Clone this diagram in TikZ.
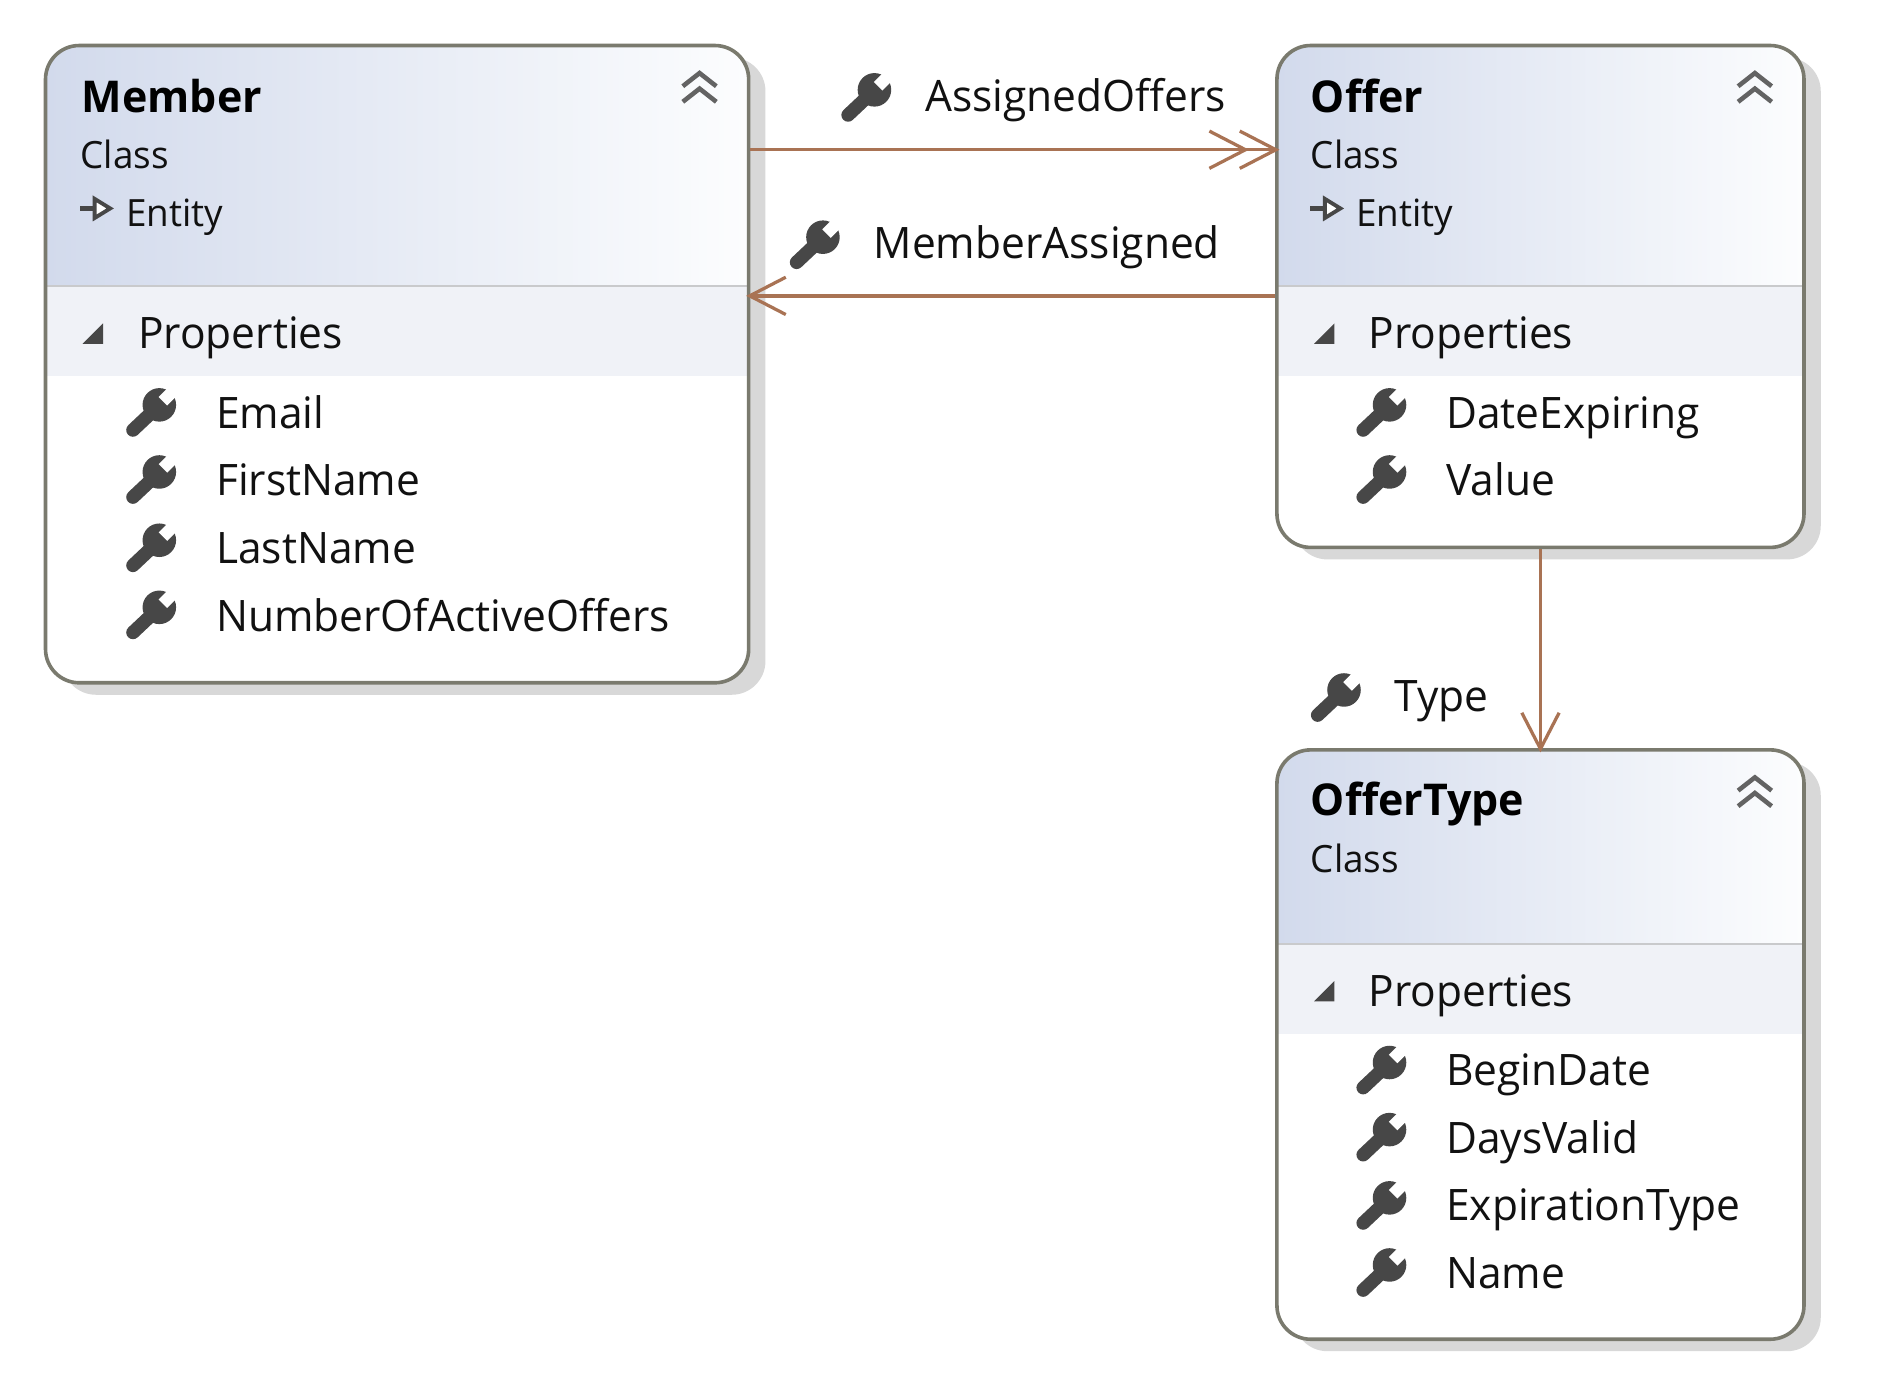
\documentclass[tikz,border=0pt]{standalone}
\usepackage{fontspec}
\setmainfont[FakeStretch=0.98]{Open Sans}
\usetikzlibrary{arrows.meta,fit}
\definecolor{boxline}{HTML}{7A7A6E}
\definecolor{shadowc}{HTML}{D8D8D8}
\definecolor{hdrL}{HTML}{D2DAEC}
\definecolor{hdrR}{HTML}{FCFDFE}
\definecolor{bandc}{HTML}{F0F2F7}
\definecolor{sepc}{HTML}{C9CACC}
\definecolor{conn}{HTML}{A97354}
\definecolor{iconc}{HTML}{474747}
\definecolor{txt}{HTML}{111111}
\tikzset{
  x=0.4975pt,y=-0.4975pt,
  boxnode/.style={draw=boxline,line width=1.5pt,rounded corners=14pt,inner sep=0pt,fill=none},
  title/.style={anchor=base west,inner sep=0pt,font=\fontsize{18.2}{22}\selectfont\bfseries,text=black},
  kind/.style={anchor=base west,inner sep=0pt,font=\fontsize{15.6}{20}\selectfont,text=txt},
  prop/.style={anchor=base west,inner sep=0pt,font=\fontsize{18}{22}\selectfont,text=txt},
  rel/.style={draw=conn,line width=1.35pt,shorten >=-1.8pt},
  barb/.style={-{Straight Barb[length=15pt,width=15.5pt,line width=1.35pt]}},
  dbarb/.style={-{Straight Barb[length=15pt,width=15.5pt,line width=1.35pt,sep=-4.5pt]Straight Barb[length=15pt,width=15.5pt,line width=1.35pt]}},
  pics/wrench/.style={code={
    \draw[iconc,line width=5.6pt,line cap=round] (-15,15) -- (2,-1);
    \fill[iconc] (7,-6) circle (14);
    \draw[white,line width=5pt] (10,-9) -- (26,-25);
  }},
  pics/collapse/.style={code={
    \draw[iconc!85,line width=1.9pt] (-14,-1) -- (0,-12) -- (14,-1);
    \draw[iconc!85,line width=1.9pt] (-14,12) -- (0,1) -- (14,12);
  }},
  pics/tri/.style={code={
    \fill[iconc] (-9,9) -- (8,9) -- (8,-8) -- cycle;
  }},
  pics/inherit/.style={code={
    \draw[iconc,line width=1.8pt] (-13,0) -- (0,0);
    \draw[iconc,line width=1.6pt,fill=white] (-1,-8) -- (12,0) -- (-1,8) -- cycle;
  }}
}
\newcommand{\classbox}[6]{%
  \coordinate (#1a) at (#2,#3);
  \coordinate (#1b) at (#4,#5);
  \fill[shadowc,rounded corners=14pt] (#2+14,#3+10) rectangle (#4+14,#5+10);
  \fill[white,rounded corners=14pt] (#2,#3) rectangle (#4,#5);
  \begin{scope}
    \clip[rounded corners=14pt] (#2,#3) rectangle (#4,#5);
    \shade[left color=hdrL,right color=hdrR] (#2,#3) rectangle (#4,#6);
    \fill[bandc] (#2,#6) rectangle (#4,#6+75);
    \draw[sepc,line width=1pt] (#2,#6) -- (#4,#6);
  \end{scope}
  \node[boxnode,fit=(#1a)(#1b)] (#1) {};
  \pic at (#4-41,#3+35) {collapse};
  \pic at (#2+40,#6+39) {tri};
}
\begin{document}
\begin{tikzpicture}
\useasboundingbox (0,0) rectangle (1567.8,1160.4);
\fill[white] (0,0) rectangle (1567.8,1160.4);

% Member
\classbox{member}{38}{38}{625}{570}{239}
\node[title] (mt) at (68,94) {Member};
\node[kind] (mk) at (67,141) {Class};
\pic at (80,174) {inherit};
\node[kind] (me) at (105,189) {Entity};
\node[prop] (mp) at (115,291) {Properties};
\pic at (126,344) {wrench};
\node[prop] (m1) at (180,358) {Email};
\pic at (126,400) {wrench};
\node[prop] (m2) at (180,414) {FirstName};
\pic at (126,457) {wrench};
\node[prop] (m3) at (180,470) {LastName};
\pic at (126,513) {wrench};
\node[prop] (m4) at (180,527) {NumberOfActiveOffers};

% Offer
\classbox{offer}{1066}{38}{1506}{457}{239}
\node[title] (ot) at (1094,94) {Offer};
\node[kind] (ok) at (1094,141) {Class};
\pic at (1107,174) {inherit};
\node[kind] (oe) at (1132,189) {Entity};
\node[prop] (op) at (1142,291) {Properties};
\pic at (1153,344) {wrench};
\node[prop] (o1) at (1207,358) {DateExpiring};
\pic at (1153,400) {wrench};
\node[prop] (o2) at (1207,414) {Value};

% OfferType
\classbox{type}{1066}{626}{1506}{1118}{788}
\node[title] (tt) at (1094,681) {OfferType};
\node[kind] (tk) at (1094,728) {Class};
\node[prop] (tp) at (1142,840) {Properties};
\pic at (1153,893) {wrench};
\node[prop] (t1) at (1207,906) {BeginDate};
\pic at (1153,949) {wrench};
\node[prop] (t2) at (1207,963) {DaysValid};
\pic at (1153,1006) {wrench};
\node[prop] (t3) at (1207,1019) {ExpirationType};
\pic at (1153,1062) {wrench};
\node[prop] (t4) at (1207,1076) {Name};

% Connectors
\coordinate (ya) at (0,125);
\coordinate (yb) at (0,247);
\draw[rel,dbarb] (member.east |- ya) -- (offer.west |- ya);
\draw[rel,barb] (offer.west |- yb) -- (member.east |- yb);
\draw[rel,barb] (offer.south) -- (type.north);

% Connector labels
\pic at (723,81) {wrench};
\node[prop] (la) at (772,93) {AssignedOffers};
\pic at (680,204) {wrench};
\node[prop] (lb) at (729,216) {MemberAssigned};
\pic at (1115,582) {wrench};
\node[prop] (lc) at (1164,594) {Type};
\end{tikzpicture}
\end{document}
